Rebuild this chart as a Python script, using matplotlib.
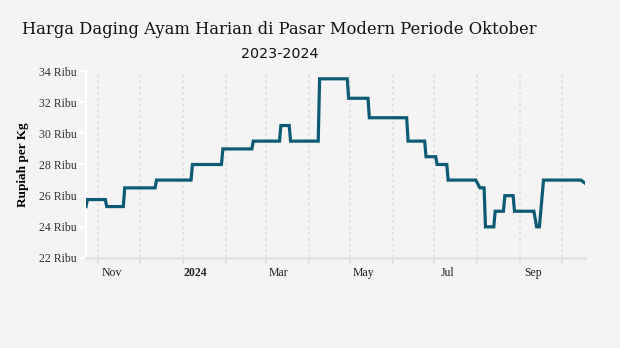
import numpy as np
import pandas as pd
import matplotlib
matplotlib.use("Agg")
import matplotlib.pyplot as plt
import matplotlib.dates as mdates
from matplotlib.transforms import ScaledTranslation

# titik perubahan harga harian (Rupiah per Kg, dalam ribu)
tanggal = ['2023-10-23', '2023-10-24', '2023-11-06', '2023-11-07', '2023-11-19', '2023-11-20',
           '2023-12-12', '2023-12-13', '2024-01-07', '2024-01-08', '2024-01-29', '2024-01-30',
           '2024-02-20', '2024-02-21', '2024-03-11', '2024-03-12', '2024-03-18', '2024-03-19',
           '2024-04-08', '2024-04-09', '2024-04-29', '2024-04-30', '2024-05-14', '2024-05-15',
           '2024-06-11', '2024-06-12', '2024-06-24', '2024-06-25', '2024-07-02', '2024-07-03',
           '2024-07-10', '2024-07-11', '2024-07-31', '2024-08-03', '2024-08-06', '2024-08-07',
           '2024-08-13', '2024-08-14', '2024-08-20', '2024-08-21', '2024-08-27', '2024-08-28',
           '2024-09-11', '2024-09-13', '2024-09-15', '2024-09-18', '2024-10-15', '2024-10-18']
harga = [25.3, 25.75, 25.75, 25.3, 25.3, 26.5,
         26.5, 27.0, 27.0, 28.0, 28.0, 29.0,
         29.0, 29.5, 29.5, 30.5, 30.5, 29.5,
         29.5, 33.5, 33.5, 32.25, 32.25, 31.0,
         31.0, 29.5, 29.5, 28.5, 28.5, 28.0,
         28.0, 27.0, 27.0, 26.5, 26.5, 24.0,
         24.0, 25.0, 25.0, 26.0, 26.0, 25.0,
         25.0, 24.0, 24.0, 27.0, 27.0, 26.8]

y_ticks = [22, 24, 26, 28, 30, 32, 34]
bulan_label = {'2023-11-01': 'Nov', '2024-01-01': '2024', '2024-03-01': 'Mar',
               '2024-05-01': 'May', '2024-07-01': 'Jul', '2024-09-01': 'Sep'}

bg = '#f4f4f4'
warna = '#0d5a75'

tgl = pd.to_datetime(tanggal)
fig = plt.figure(figsize=(6.2, 3.48), dpi=100, facecolor=bg)
ax = fig.add_axes([86 / 620, 1 - 258 / 348, (585 - 86) / 620, (258 - 71) / 348])
ax.set_facecolor(bg)

ax.plot(tgl, harga, color=warna, lw=2.3, solid_joinstyle='miter', zorder=3)

ax.set_xlim(tgl[0], tgl[-1])
ax.set_ylim(22, 34)

# garis bantu bulanan
bulan = pd.date_range('2023-11-01', '2024-10-01', freq='MS')
for b in bulan:
    ax.axvline(b, color='#dedede', lw=1.2, ls=(0, (1.5, 2)), zorder=1)
ax.set_xticks(bulan)
ax.set_xticklabels([])
ax.tick_params(axis='x', length=4, width=1.2, color='#dedede', direction='out')

# label bulan sedikit bergeser ke kanan
geser = ScaledTranslation(13 / 100, 0, fig.dpi_scale_trans)
for d, teks in bulan_label.items():
    ax.text(pd.Timestamp(d), -0.05, teks, transform=ax.get_xaxis_transform() + geser,
            ha='center', va='top', fontsize=8.5, family='Liberation Serif',
            fontweight='bold' if teks == '2024' else 'normal', color='#222222')

ax.set_yticks(y_ticks)
ax.set_yticklabels([f'{v} Ribu' for v in y_ticks], family='Liberation Serif', fontsize=8.5, color='#333333')
ax.tick_params(axis='y', length=5, width=1.5, color='white', pad=2)
ax.set_ylabel('Rupiah per Kg', family='Liberation Serif', fontsize=9.5, fontweight='bold', labelpad=7)

for s in ['top', 'right']:
    ax.spines[s].set_visible(False)
ax.spines['left'].set_color('white')
ax.spines['left'].set_linewidth(1.5)
ax.spines['bottom'].set_color('#e3e3e3')
ax.spines['bottom'].set_linewidth(2)

fig.text(22 / 620, 1 - 30 / 348, 'Harga Daging Ayam Harian di Pasar Modern Periode Oktober',
         ha='left', va='center', fontsize=11.8, family='DejaVu Serif', color='#111111')
fig.text(280 / 620, 1 - 54 / 348, '2023-2024', ha='center', va='center',
         fontsize=10.3, family='DejaVu Sans', color='#111111')

fig.savefig('out.png', dpi=100, facecolor=bg)
